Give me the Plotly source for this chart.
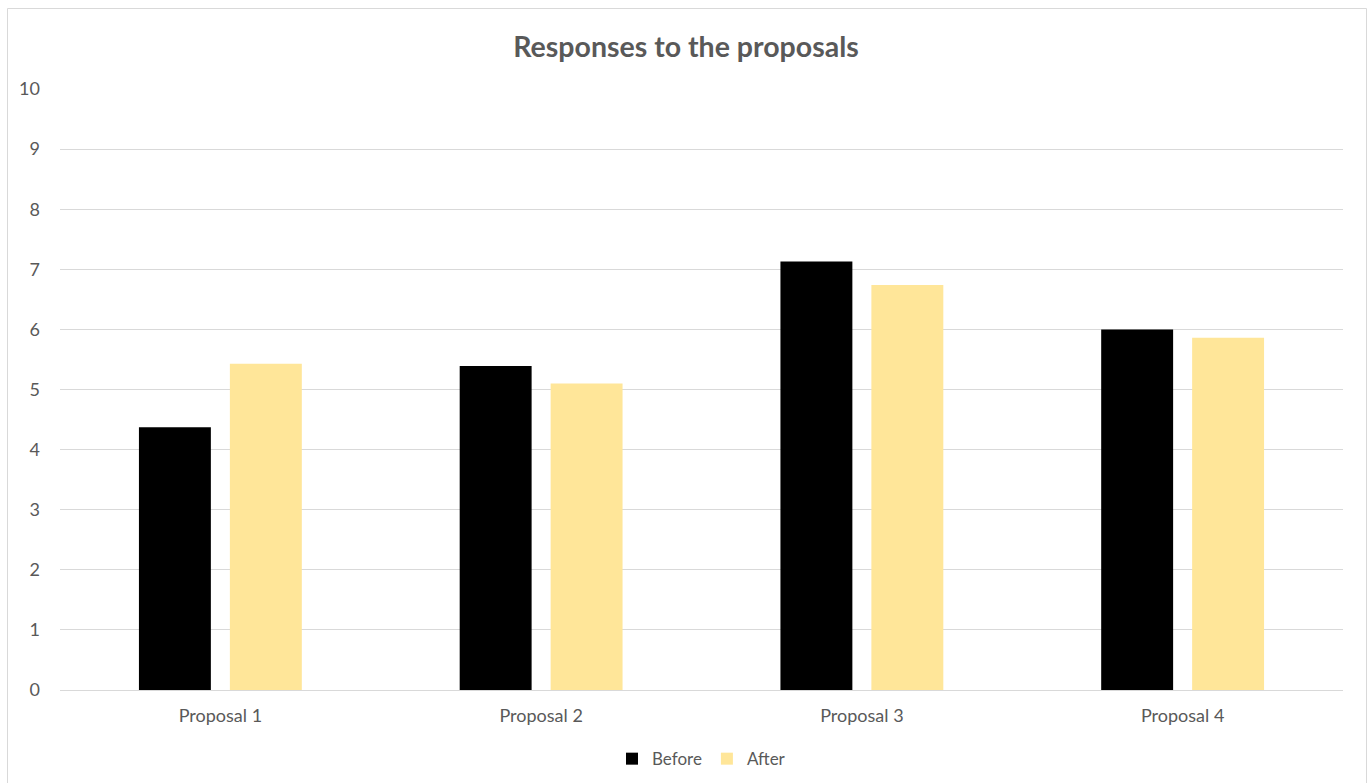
import plotly.graph_objects as go

categories = ["Proposal 1", "Proposal 2", "Proposal 3", "Proposal 4"]
before = [4.37, 5.39, 7.13, 6.0]
after = [5.43, 5.10, 6.74, 5.86]
y_ticks = [0, 1, 2, 3, 4, 5, 6, 7, 8, 9, 10]

font_family = "Lato, 'Open Sans', sans-serif"
grey = "#595959"

fig = go.Figure()
fig.add_trace(go.Bar(name="Before", x=categories, y=before, marker=dict(color="#000000", line=dict(width=0))))
fig.add_trace(go.Bar(name="After", x=categories, y=after, marker=dict(color="#FFE699", line=dict(width=0))))

fig.update_layout(
    width=1372, height=783,
    margin=dict(l=60, r=29, t=89, b=93, autoexpand=False),
    paper_bgcolor="white", plot_bgcolor="white",
    barmode="group", bargap=0.433, bargroupgap=0.209,
    title=dict(text="<b>Responses to the proposals</b>", x=0.5, xanchor="center",
               y=1 - 47 / 783, yanchor="middle",
               font=dict(family=font_family, size=28.5, color=grey)),
    font=dict(family=font_family, size=17, color=grey),
    legend=dict(orientation="h", x=0.5, xanchor="center", y=-0.115, yanchor="middle",
                font=dict(size=17, color=grey), itemwidth=30, traceorder="normal"),
    showlegend=True,
    yaxis=dict(range=[0, 10], tickvals=y_ticks, showgrid=True, gridcolor="#D9D9D9", gridwidth=1,
               zeroline=False, showline=False, ticks="", ticklabelstandoff=19, automargin=False,
               tickfont=dict(size=18, color=grey), fixedrange=True),
    xaxis=dict(showline=True, linecolor="#D9D9D9", linewidth=1, ticks="", ticklabelstandoff=9,
               automargin=False, tickfont=dict(size=18, color=grey)),
    shapes=[dict(type="rect", xref="paper", yref="paper",
                 x0=(7.5 - 60) / 1283, x1=(1366.5 - 60) / 1283,
                 y0=(690 - 800) / 601, y1=(690 - 8.5) / 601,
                 line=dict(color="#D9D9D9", width=1), fillcolor="rgba(0,0,0,0)", layer="below")],
)

fig.write_html("out.html")
